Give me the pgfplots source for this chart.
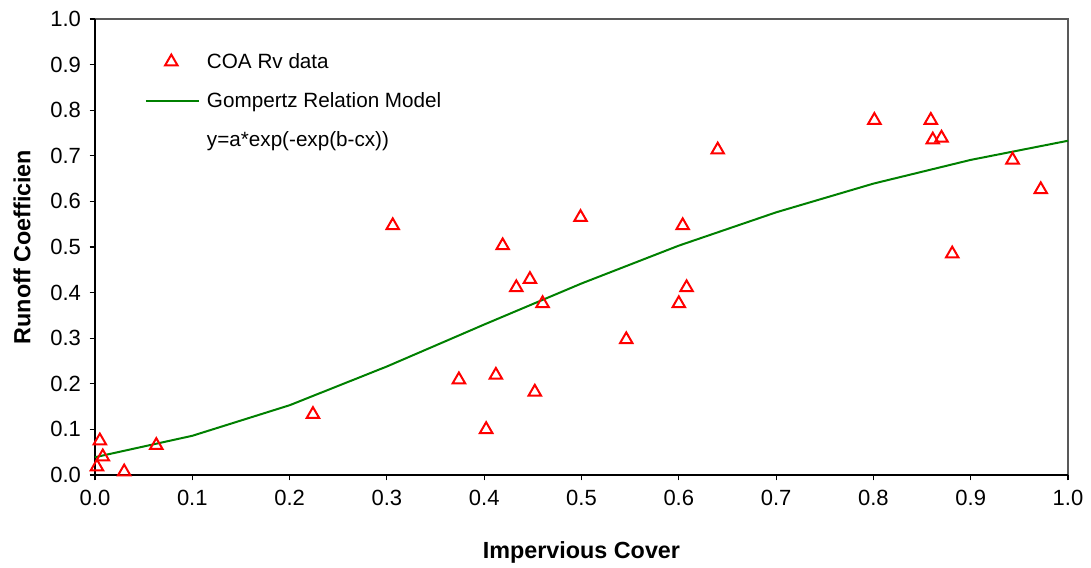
\documentclass[border=0pt]{standalone}
\usepackage{pgfplots}
\pgfplotsset{compat=1.18}
\usepackage{fontspec}
\setmainfont{Liberation Sans}
\definecolor{dgreen}{RGB}{0,128,0}
\pgfplotsset{
  markleg/.style={legend image code/.code={\draw[##1] plot coordinates {(19pt,0pt)}; \path[draw=none] (0pt,0pt) -- (43.75pt,0pt);}},
  lineleg/.style={legend image code/.code={\draw[##1] (0pt,0pt) -- (40pt,0pt); \path[draw=none] (0pt,0pt) -- (43.75pt,0pt);}},
  emptyleg/.style={legend image code/.code={\path[draw=none] (0pt,0pt) -- (43.75pt,0pt);}},
}
\begin{document}
\begin{tikzpicture}
\begin{axis}[
  scale only axis,
  width=729.75pt, height=342pt,
  xmin=0, xmax=1, ymin=0, ymax=1,
  xtick={0,0.1,...,1.0}, ytick={0,0.1,...,1.0},
  /pgf/number format/assume math mode=true,
  /pgf/number format/fixed, /pgf/number format/fixed zerofill, /pgf/number format/precision=1,
  ticklabel style={font=\fontsize{16.5}{19}\selectfont},
  xticklabel style={yshift=-4pt},
  yticklabel style={xshift=-3pt},
  tick align=outside, major tick length=4pt,
  tick style={black, line width=0.8pt},
  axis line style={draw=none},
  axis x line*=bottom, axis y line*=left,
  xlabel={\textbf{Impervious Cover}}, ylabel={\textbf{Runoff Coefficien}},
  label style={font=\fontsize{17.5}{20}\selectfont},
  xlabel style={yshift=-20pt},
  ylabel style={yshift=8pt},
  legend style={draw=none, fill=none, font=\fontsize{15.5}{18}\selectfont,
    at={(rel axis cs:0.047,0.937)}, anchor=north west, row sep=12.7pt,
    legend cell align=left},
  clip=false,
]
\draw[gray!70!black, line width=0.8pt] (rel axis cs:0,1) -- (rel axis cs:1,1) -- (rel axis cs:1,0);
\draw[black, line width=0.8pt] (rel axis cs:0,1) -- (rel axis cs:0,0) -- (rel axis cs:1,0);
\addplot[only marks, mark=triangle, mark size=5.4pt, red, mark options={line width=1.5pt, fill=none}, markleg] table {
x y
0.002 0.018
0.005 0.075
0.008 0.040
0.030 0.007
0.063 0.065
0.224 0.133
0.306 0.547
0.374 0.209
0.402 0.100
0.412 0.219
0.419 0.503
0.433 0.411
0.447 0.429
0.452 0.182
0.460 0.376
0.499 0.565
0.546 0.297
0.600 0.376
0.604 0.547
0.608 0.411
0.640 0.713
0.801 0.778
0.859 0.778
0.861 0.735
0.870 0.739
0.881 0.485
0.943 0.691
0.972 0.626
};
\addlegendentry{COA Rv data}
\addplot[dgreen, line width=1.5pt, mark=none, lineleg] table {
x y
0.0 0.039
0.1 0.086
0.2 0.153
0.3 0.238
0.4 0.330
0.5 0.420
0.6 0.503
0.7 0.576
0.8 0.639
0.9 0.691
1.0 0.733
};
\addlegendentry{Gompertz Relation Model}
\addlegendimage{emptyleg, draw=none}
\addlegendentry{y=a*exp(-exp(b-cx))}
\coordinate (sw) at (rel axis cs:0,0);
\coordinate (ne) at (rel axis cs:1,1);
\end{axis}
\pgfresetboundingbox
\path[use as bounding box] ([shift={(-71.25pt,-69pt)}]sw) rectangle ([shift={(17.25pt,14.25pt)}]ne);
\end{tikzpicture}
\end{document}
